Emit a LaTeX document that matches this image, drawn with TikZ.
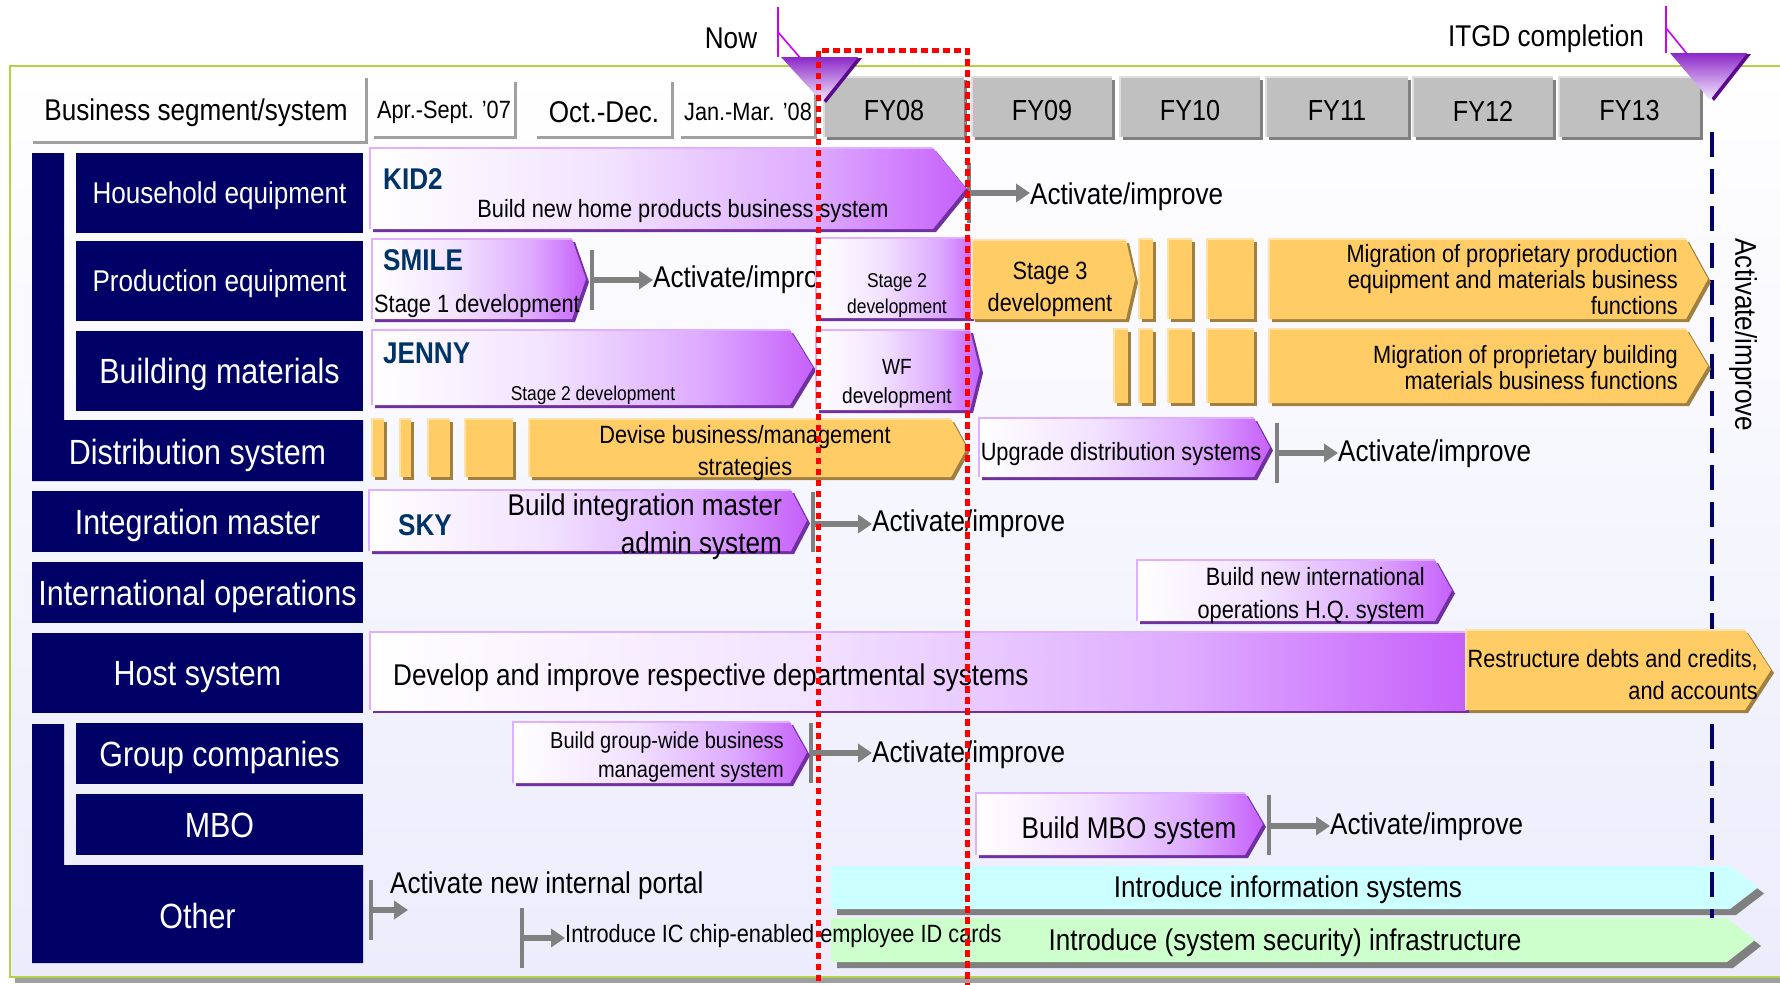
\documentclass[tikz,border=0pt]{standalone}
\usepackage{fontspec}
\setmainfont{Liberation Sans}[FakeStretch=0.87]
\usetikzlibrary{arrows.meta}

\definecolor{navy}{RGB}{0,0,102}
\definecolor{codeblue}{RGB}{0,51,102}
\definecolor{pdark}{RGB}{112,48,160}
\definecolor{plight}{RGB}{222,176,255}
\definecolor{pp1}{RGB}{242,226,255}
\definecolor{pp2}{RGB}{222,172,255}
\definecolor{pp3}{RGB}{198,96,250}
\definecolor{orng}{RGB}{255,204,102}
\definecolor{orlight}{RGB}{255,226,170}
\definecolor{orshad}{RGB}{160,128,64}
\definecolor{cyanbar}{RGB}{204,255,255}
\definecolor{greenbar}{RGB}{204,255,204}
\definecolor{framegreen}{RGB}{180,210,70}
\definecolor{mag}{RGB}{204,0,255}
\definecolor{tridark}{RGB}{140,40,200}
\definecolor{trishad}{RGB}{90,10,140}
\definecolor{trilight}{RGB}{245,235,255}
\definecolor{fygray}{RGB}{192,192,192}
\definecolor{fylight}{RGB}{222,222,222}
\definecolor{fyshad}{RGB}{128,128,128}
\definecolor{cellline}{RGB}{160,160,160}
\definecolor{conngray}{RGB}{128,128,128}
\definecolor{bglav}{RGB}{236,236,252}

\pgfdeclarehorizontalshading{pgrad}{100bp}{color(0bp)=(white); color(25bp)=(white); color(45bp)=(pp1); color(62bp)=(pp2); color(75bp)=(pp3); color(100bp)=(pp3)}
\pgfdeclareverticalshading{tgrad}{100bp}{color(0bp)=(trilight); color(25bp)=(trilight); color(75bp)=(tridark); color(100bp)=(tridark)}

% purple chevron bar: x1,y1,x2,y2,d
\newcommand\pbar[5]{%
 \fill[pdark] ({#1+3},{#2+3}) -- ({#3-#5+3},{#2+3}) -- ({#3+3},{(#2+#4)/2+3}) -- ({#3-#5+3},{#4+3}) -- ({#1+3},{#4+3}) -- cycle;
 \shade[shading=pgrad] (#1,#2) -- ({#3-#5},#2) -- (#3,{(#2+#4)/2}) -- ({#3-#5},#4) -- (#1,#4) -- cycle;
 \draw[plight, line width=2] (#1,#4) -- (#1,#2) -- ({#3-#5},#2);}
% orange chevron bar
\newcommand\obar[5]{%
 \fill[orshad] ({#1+3},{#2+3}) -- ({#3-#5+3},{#2+3}) -- ({#3+3},{(#2+#4)/2+3}) -- ({#3-#5+3},{#4+3}) -- ({#1+3},{#4+3}) -- cycle;
 \fill[orng] (#1,#2) -- ({#3-#5},#2) -- (#3,{(#2+#4)/2}) -- ({#3-#5},#4) -- (#1,#4) -- cycle;
 \draw[orlight, line width=2] (#1,#4) -- (#1,#2) -- ({#3-#5},#2);}
% orange block
\newcommand\oblock[4]{%
 \fill[orshad] ({#1+3},{#2+3}) rectangle ({#3+3},{#4+3});
 \fill[orng] (#1,#2) rectangle (#3,#4);
 \draw[orlight, line width=2] (#1,#4) -- (#1,#2) -- (#3,#2);}
% flat bar with gray shadow: x1,y1,x2,y2,d,color
\newcommand\gbar[6]{%
 \fill[fyshad] ({#1+6},{#2+6}) -- ({#3-#5+6},{#2+6}) -- ({#3+6},{(#2+#4)/2+6}) -- ({#3-#5+6},{#4+6}) -- ({#1+6},{#4+6}) -- cycle;
 \fill[#6] (#1,#2) -- ({#3-#5},#2) -- (#3,{(#2+#4)/2}) -- ({#3-#5},#4) -- (#1,#4) -- cycle;}
% FY box: name,x1,x2,label
\newcommand\fybox[4]{%
 \fill[fyshad] ({#2+3},80) rectangle ({#3+3},140);
 \fill[fygray] (#2,77) rectangle (#3,137);
 \draw[fylight, line width=2] (#2,137) -- (#2,77) -- (#3,77);
 \node[t29] (#1) at ({(#2+#3)/2},109) {#4};}

\tikzset{
 lab/.style={fill=navy, text=white, inner sep=0pt, text height=25.2pt, text depth=0pt, font=\fontsize{35}{38}\selectfont},
 labs/.style={lab, text height=21.6pt, font=\fontsize{30}{33}\selectfont},
 t30/.style={inner sep=0pt, yshift=-3pt, font=\fontsize{30}{33}\selectfont},
 t29/.style={inner sep=0pt, yshift=-2pt, font=\fontsize{29}{32}\selectfont},
 t25/.style={inner sep=0pt, yshift=-3pt, font=\fontsize{25}{28}\selectfont},
 t20/.style={inner sep=0pt, yshift=-3pt, font=\fontsize{20}{23}\selectfont},
 ml/.style={inner sep=0pt},
 code/.style={inner sep=0pt, yshift=-2pt, text=codeblue, font=\bfseries\fontsize{30}{33}\selectfont},
 connbar/.style={conngray, line width=4.5},
 connarrow/.style={conngray, line width=6, -{Triangle[length=14pt,width=18pt]}},
 cell/.style={cellline, line width=3},
 redbox/.style={red, line width=5, dash pattern=on 6.5pt off 4.5pt},
 navydash/.style={navy, line width=4, dash pattern=on 25pt off 12pt},
 magline/.style={mag, line width=1.6},
}

\begin{document}
\begin{tikzpicture}[x=1pt,y=-1pt]
\useasboundingbox (0,0) rectangle (1780,985);
\clip (0,0) rectangle (1780,985);

% frame
\fill[gray!75] (15,72) rectangle (1800,983);
\shade[top color=white, bottom color=bglav] (10,66) rectangle (1800,977);
\draw[framegreen, line width=2.5] (1800,66) -- (10,66) -- (10,977) -- (1800,977);

% header cells
\draw[cell] (33,142) -- (366,142) -- (366,78);
\node[t30] (bs) at (196,110) {Business segment/system};
\draw[cell] (374,137) -- (515,137) -- (515,82);
\node[t25] (apr) at (444,109) {Apr.-Sept. '07};
\draw[cell] (537,137) -- (672,137) -- (672,82);
\node[t30] (oct) at (604,109) {Oct.-Dec.};
\draw[cell] (681,137) -- (815,137) -- (815,82);
\node[t25] (jan) at (748,109) {Jan.-Mar. '08};
\fybox{fy08}{824}{964}{FY08}
\fybox{fy09}{972}{1112}{FY09}
\fybox{fy10}{1120}{1260}{FY10}
\fybox{fy11}{1266}{1408}{FY11}
\fybox{fy12}{1413}{1553}{FY12}
\fybox{fy13}{1559}{1700}{FY13}

% left labels
\fill[navy] (32,153) -- (64,153) -- (64,420) -- (363,420) -- (363,481) -- (32,481) -- cycle;
\node[labs, minimum width=287, minimum height=80] (hh) at (219.5,193) {Household equipment};
\node[labs, minimum width=287, minimum height=80] (pe) at (219.5,281) {Production equipment};
\node[lab, minimum width=287, minimum height=80] (bm) at (219.5,371) {Building materials};
\node[lab, fill=none] (ds) at (197.5,452) {Distribution system};
\node[lab, minimum width=331, minimum height=61] (im) at (197.5,521.5) {Integration master};
\node[lab, minimum width=331, minimum height=61] (io) at (197.5,592.5) {International operations};
\node[lab, minimum width=331, minimum height=80] (hs) at (197.5,673) {Host system};
\fill[navy] (32,724) -- (64,724) -- (64,865) -- (363,865) -- (363,963) -- (32,963) -- cycle;
\node[lab, minimum width=287, minimum height=61] (gc) at (219.5,753.5) {Group companies};
\node[lab, minimum width=287, minimum height=61] (mb) at (219.5,824.5) {MBO};
\node[lab, fill=none] (ot) at (197.5,916) {Other};

% cyan / green bars
\gbar{831}{866}{1758}{909}{28}{cyanbar}
\gbar{831}{918}{1755}{962}{28}{greenbar}
\node[t30] (info) at (1288,887) {Introduce information systems};
\node[t30] (sec) at (1285,940) {Introduce (system security) infrastructure};

% ITGD dashed line
\draw[navydash] (1712,132) -- (1712,918);

% activate/improve connectors
\node[t30, anchor=west] (act1) at (1030,194) {Activate/improve};
\coordinate (k1) at (969,193);
\draw[connbar] (969,163) -- (969,223);
\draw[connarrow] (k1) -- (k1 -| act1.west);

\node[t30, anchor=west] (act2) at (653,277) {Activate/improve};
\coordinate (k2) at (592,280);
\draw[connbar] (592,250) -- (592,310);
\draw[connarrow] (k2) -- (k2 -| act2.west);

\node[t30, anchor=west] (act3) at (1338,451) {Activate/improve};
\coordinate (k3) at (1277,453);
\draw[connbar] (1277,423) -- (1277,483);
\draw[connarrow] (k3) -- (k3 -| act3.west);

\node[t30, anchor=west] (act4) at (872,521) {Activate/improve};
\coordinate (k4) at (813,524);
\draw[connbar] (813,492) -- (813,552);
\draw[connarrow] (k4) -- (k4 -| act4.west);

\node[t30, anchor=west] (act5) at (872,752) {Activate/improve};
\coordinate (k5) at (811,753);
\draw[connbar] (811,723) -- (811,783);
\draw[connarrow] (k5) -- (k5 -| act5.west);

\node[t30, anchor=west] (act6) at (1330,824) {Activate/improve};
\coordinate (k6) at (1269,826);
\draw[connbar] (1269,795) -- (1269,855);
\draw[connarrow] (k6) -- (k6 -| act6.west);

% purple / orange bars
\pbar{370}{148}{966}{229}{33}
\pbar{372}{239}{586}{319}{14}
\pbar{816}{238}{980}{318}{9}
\obar{972}{240}{1135}{319}{9}
\oblock{1139}{239}{1153}{319}
\oblock{1168}{239}{1192}{319}
\oblock{1207}{239}{1254}{319}
\obar{1269}{239}{1708}{319}{22}
\pbar{372}{330}{813}{405}{23}
\pbar{816}{330}{980}{410}{10}
\oblock{1114}{329}{1128}{403}
\oblock{1139}{329}{1153}{403}
\oblock{1168}{329}{1192}{403}
\oblock{1207}{329}{1254}{403}
\obar{1269}{329}{1708}{403}{22}
\oblock{372}{419}{384}{477}
\oblock{400}{419}{411}{477}
\oblock{428}{419}{450}{477}
\oblock{465}{419}{513}{477}
\obar{529}{419}{967}{477}{16}
\pbar{979}{418}{1270}{477}{16}
\pbar{369}{490}{807}{551}{16}
\pbar{1137}{560}{1452}{621}{17}
% host bar
\fill[pdark] (373,635) rectangle (1469,713);
\shade[shading=pgrad] (370,632) rectangle (1466,710);
\draw[plight, line width=2] (370,710) -- (370,632) -- (1466,632);
\obar{1466}{630}{1771}{710}{26}
\pbar{513}{722}{807}{783}{17}
\pbar{976}{793}{1263}{855}{18}

% bar texts
\node[code, anchor=west] (kid) at (383,177) {KID2};
\node[t25] (kidt) at (683,208) {Build new home products business system};
\node[code, anchor=west] (smile) at (383,258) {SMILE};
\node[t25] (smilet) at (477,303) {Stage 1 development};
\node[ml, font=\fontsize{20}{26}\selectfont, align=center] (st2) at (897,296) {Stage 2\\development};
\node[ml, font=\fontsize{25}{32}\selectfont, align=center] (st3) at (1050,289) {Stage 3\\development};
\node[ml, font=\fontsize{25}{26}\selectfont, align=right, anchor=east] (mig1) at (1678,280) {Migration of proprietary production\\equipment and materials business\\functions};
\node[code, anchor=west] (jenny) at (383,351) {JENNY};
\node[t20] (jennyt) at (593,392) {Stage 2 development};
\node[ml, font=\fontsize{22}{29}\selectfont, align=center] (wf) at (897,384) {WF\\development};
\node[ml, font=\fontsize{25}{26}\selectfont, align=right, anchor=east] (mig2) at (1678,368) {Migration of proprietary building\\materials business functions};
\node[ml, font=\fontsize{25}{32}\selectfont, align=center] (devise) at (745,453) {Devise business/management\\strategies};
\node[t25] (upg) at (1121,451) {Upgrade distribution systems};
\node[code] (sky) at (425,523) {SKY};
\node[ml, font=\fontsize{30}{38}\selectfont, align=right, anchor=east] (skyt) at (782,527) {Build integration master\\admin system};
\node[ml, font=\fontsize{25}{33}\selectfont, align=right, anchor=east] (intl) at (1425,596) {Build new international\\operations H.Q. system};
\node[t30, anchor=west] (host) at (393,675) {Develop and improve respective departmental systems};
\node[ml, font=\fontsize{25}{32}\selectfont, align=right, anchor=east] (restr) at (1758,675) {Restructure debts and credits,\\and accounts};
\node[ml, font=\fontsize{23}{29}\selectfont, align=right, anchor=east] (grp) at (784,757) {Build group-wide business\\management system};
\node[t30] (mbot) at (1129,828) {Build MBO system};

% other row
\node[t30, anchor=west] (portal) at (390,883) {Activate new internal portal};
\coordinate (k7) at (371,910);
\coordinate (portalend) at (408,910);
\draw[connbar] (371,880) -- (371,940);
\draw[connarrow] (k7) -- (portalend);
\node[t25, anchor=west] (icchip) at (565,933) {Introduce IC chip-enabled employee ID cards};
\coordinate (k8) at (522,938);
\draw[connbar] (522,908) -- (522,968);
\draw[connarrow] (k8) -- (k8 -| icchip.west);

% markers
\node[t30] (now) at (731,35) {Now};
\draw[magline] (778,7) -- (778,57);
\draw[magline] (778,32) -- (802,60);
\fill[trishad] (785,58) -- (862,58) -- (826,103) -- cycle;
\shade[shading=tgrad] (781,57) -- (858,57) -- (822,102) -- cycle;
\node[t30] (itgd) at (1546,36) {ITGD completion};
\draw[magline] (1666,6) -- (1666,53);
\draw[magline] (1666,28) -- (1692,60);
\fill[trishad] (1674,54) -- (1751,54) -- (1714,101) -- cycle;
\shade[shading=tgrad] (1670,53) -- (1747,53) -- (1710,100) -- cycle;

% rotated label
\node[inner sep=0pt, font=\fontsize{30}{33}\selectfont, rotate=-90] (actv) at (1743,335) {Activate/improve};

% red dotted box
\draw[redbox] (818,992) -- (818,50) -- (967,50) -- (967,992);
\end{tikzpicture}
\end{document}
